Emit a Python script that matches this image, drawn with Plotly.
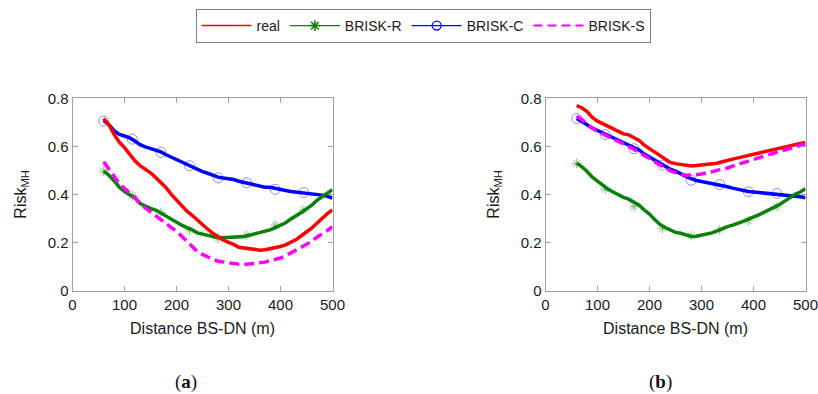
import plotly.graph_objects as go

# ---------------- data ----------------
distance = list(range(60, 501, 10))
marker_distance = [60, 115, 170, 225, 280, 335, 390, 445]

# panel (a)
a_real = [0.715, 0.690, 0.650, 0.617, 0.595, 0.567, 0.540, 0.520, 0.505, 0.490,
          0.470, 0.450, 0.428, 0.400, 0.375, 0.350, 0.330, 0.313, 0.292, 0.272,
          0.255, 0.238, 0.222, 0.210, 0.200, 0.192, 0.180, 0.177, 0.175, 0.170,
          0.168, 0.170, 0.174, 0.176, 0.183, 0.190, 0.200, 0.212, 0.228, 0.243,
          0.260, 0.280, 0.300, 0.320, 0.335]
a_r = [0.497, 0.480, 0.457, 0.430, 0.412, 0.398, 0.385, 0.362, 0.350, 0.342,
       0.335, 0.322, 0.310, 0.295, 0.283, 0.272, 0.262, 0.253, 0.240, 0.235,
       0.228, 0.224, 0.220, 0.220, 0.221, 0.222, 0.222, 0.225, 0.230, 0.236,
       0.240, 0.245, 0.252, 0.262, 0.272, 0.282, 0.298, 0.310, 0.325, 0.340,
       0.355, 0.375, 0.390, 0.405, 0.420]
a_c = [0.707, 0.690, 0.665, 0.650, 0.643, 0.635, 0.622, 0.607, 0.598, 0.592,
       0.585, 0.577, 0.565, 0.555, 0.543, 0.533, 0.522, 0.515, 0.503, 0.495,
       0.488, 0.478, 0.472, 0.468, 0.466, 0.462, 0.455, 0.450, 0.448, 0.443,
       0.436, 0.430, 0.430, 0.425, 0.418, 0.416, 0.412, 0.410, 0.406, 0.404,
       0.404, 0.400, 0.397, 0.392, 0.385]
a_s = [0.536, 0.505, 0.470, 0.445, 0.425, 0.405, 0.388, 0.360, 0.343, 0.328,
       0.312, 0.292, 0.276, 0.262, 0.247, 0.226, 0.205, 0.188, 0.162, 0.150,
       0.138, 0.130, 0.122, 0.118, 0.116, 0.112, 0.109, 0.108, 0.110, 0.111,
       0.113, 0.118, 0.124, 0.130, 0.135, 0.145, 0.155, 0.168, 0.180, 0.192,
       0.205, 0.222, 0.235, 0.250, 0.266]
a_r_markers = [0.497, 0.394, 0.325, 0.252, 0.217, 0.231, 0.272, 0.335]
a_c_markers = [0.705, 0.630, 0.575, 0.519, 0.469, 0.448, 0.421, 0.408]

# panel (b)
b_real = [0.770, 0.760, 0.745, 0.720, 0.705, 0.695, 0.685, 0.674, 0.663, 0.652,
          0.648, 0.638, 0.625, 0.605, 0.590, 0.575, 0.560, 0.547, 0.533, 0.528,
          0.524, 0.520, 0.518, 0.520, 0.522, 0.523, 0.526, 0.530, 0.536, 0.540,
          0.547, 0.552, 0.557, 0.563, 0.568, 0.574, 0.580, 0.585, 0.590, 0.595,
          0.600, 0.604, 0.608, 0.612, 0.616]
b_r = [0.530, 0.515, 0.495, 0.472, 0.455, 0.438, 0.422, 0.410, 0.398, 0.388,
       0.380, 0.368, 0.355, 0.335, 0.318, 0.295, 0.275, 0.262, 0.250, 0.242,
       0.238, 0.230, 0.225, 0.226, 0.230, 0.236, 0.240, 0.248, 0.258, 0.266,
       0.272, 0.279, 0.288, 0.297, 0.305, 0.315, 0.325, 0.335, 0.346, 0.358,
       0.372, 0.388, 0.400, 0.410, 0.423]
b_c = [0.716, 0.705, 0.690, 0.676, 0.666, 0.657, 0.648, 0.638, 0.628, 0.617,
       0.608, 0.596, 0.585, 0.568, 0.555, 0.540, 0.528, 0.517, 0.505, 0.497,
       0.485, 0.475, 0.466, 0.458, 0.454, 0.450, 0.446, 0.442, 0.438, 0.432,
       0.426, 0.421, 0.416, 0.412, 0.410, 0.408, 0.407, 0.405, 0.402, 0.400,
       0.398, 0.395, 0.393, 0.390, 0.386]
b_s = [0.725, 0.712, 0.690, 0.675, 0.662, 0.652, 0.642, 0.630, 0.620, 0.610,
       0.600, 0.588, 0.575, 0.558, 0.545, 0.532, 0.520, 0.510, 0.498, 0.490,
       0.484, 0.480, 0.480, 0.482, 0.485, 0.488, 0.494, 0.500, 0.504, 0.510,
       0.518, 0.525, 0.532, 0.540, 0.546, 0.553, 0.560, 0.566, 0.573, 0.579,
       0.585, 0.591, 0.597, 0.603, 0.610]
b_r_markers = [0.529, 0.422, 0.349, 0.259, 0.228, 0.252, 0.290, 0.348]
b_c_markers = [0.716, 0.649, 0.590, 0.522, 0.459, 0.441, 0.411, 0.404]

series_names = ["real", "BRISK-R", "BRISK-C", "BRISK-S"]
x_ticks = [0, 100, 200, 300, 400, 500]
y_ticks = [0, 0.2, 0.4, 0.6, 0.8]
y_tick_text = ["0", "0.2", "0.4", "0.6", "0.8"]

# ---------------- styles ----------------
RED, GREEN, BLUE, MAGENTA = "#ff0000", "#0a800a", "#0000ff", "#ff00ff"
PALE_GREEN, PALE_BLUE = "#7fbf7f", "#8c8cff"
FONT = "Arial, Liberation Sans, sans-serif"
AXC = "#a0a0a0"
TXT = "#1a1a1a"
LW = 3.5
DASH = "10px,5px"

fig = go.Figure()

panels = [
    ("x", "y", a_real, a_r, a_c, a_s, a_r_markers, a_c_markers),
    ("x2", "y2", b_real, b_r, b_c, b_s, b_r_markers, b_c_markers),
]
for xa, ya, real, r, c, s, rm, cm in panels:
    # markers (drawn below the thick lines)
    fig.add_trace(go.Scatter(x=marker_distance, y=rm, mode="markers", xaxis=xa, yaxis=ya,
                             marker=dict(symbol="asterisk-open", size=8, color=PALE_GREEN,
                                         line=dict(color=PALE_GREEN, width=1)),
                             showlegend=False, hoverinfo="skip"))
    fig.add_trace(go.Scatter(x=marker_distance, y=cm, mode="markers", xaxis=xa, yaxis=ya,
                             marker=dict(symbol="circle-open", size=10, color=PALE_BLUE,
                                         line=dict(color=PALE_BLUE, width=1)),
                             showlegend=False, hoverinfo="skip"))
    fig.add_trace(go.Scatter(x=distance, y=c, mode="lines", xaxis=xa, yaxis=ya,
                             line=dict(color=BLUE, width=LW), showlegend=False))
    fig.add_trace(go.Scatter(x=distance, y=r, mode="lines", xaxis=xa, yaxis=ya,
                             line=dict(color=GREEN, width=LW), showlegend=False))
    fig.add_trace(go.Scatter(x=distance, y=real, mode="lines", xaxis=xa, yaxis=ya,
                             line=dict(color=RED, width=LW), showlegend=False))
    fig.add_trace(go.Scatter(x=distance, y=s, mode="lines", xaxis=xa, yaxis=ya,
                             line=dict(color=MAGENTA, width=LW, dash=DASH), showlegend=False))

# legend entries (thin lines, as in the reference legend)
fig.add_trace(go.Scatter(x=[None], y=[None], mode="lines", name=series_names[0],
                         line=dict(color=RED, width=1.5)))
fig.add_trace(go.Scatter(x=[None], y=[None], mode="lines+markers", name=series_names[1],
                         line=dict(color=GREEN, width=1.3),
                         marker=dict(symbol="asterisk-open", size=9, color=GREEN,
                                     line=dict(color=GREEN, width=1.5))))
fig.add_trace(go.Scatter(x=[None], y=[None], mode="lines+markers", name=series_names[2],
                         line=dict(color=BLUE, width=1.3),
                         marker=dict(symbol="circle-open", size=9, color=BLUE,
                                     line=dict(color=BLUE, width=1.3))))
fig.add_trace(go.Scatter(x=[None], y=[None], mode="lines", name=series_names[3],
                         line=dict(color=MAGENTA, width=2, dash="9px,5px")))

W, H = 818, 394
def px_x(p):
    return p / W
def px_y(p):
    return 1 - p / H

common_x = dict(range=[0, 500], tickvals=x_ticks, ticks="inside", ticklen=5, tickcolor=AXC,
                showline=True, linecolor=AXC, linewidth=1, mirror="ticks", showgrid=False,
                zeroline=False, automargin=False, ticklabeloverflow="allow",
                tickfont=dict(size=15, color=TXT, family=FONT),
                title=dict(text="Distance BS-DN (m)", font=dict(size=16, color=TXT, family=FONT),
                           standoff=11))
common_y = dict(range=[0, 0.8], tickvals=y_ticks, ticktext=y_tick_text,
                ticks="inside", ticklen=5, tickcolor=AXC,
                showline=True, linecolor=AXC, linewidth=1, mirror="ticks", showgrid=False,
                zeroline=False, automargin=False, ticklabeloverflow="allow",
                tickfont=dict(size=15, color=TXT, family=FONT),
                title=dict(text="Risk<sub>MH</sub>", font=dict(size=16, color=TXT, family=FONT),
                           standoff=17))

ydom = [px_y(290.5), px_y(98.3)]
fig.update_layout(
    template="none",
    width=W, height=H,
    margin=dict(l=0, r=0, t=0, b=0, pad=0),
    paper_bgcolor="white", plot_bgcolor="white",
    font=dict(family=FONT, color=TXT),
    xaxis=dict(domain=[px_x(72.5), px_x(332.5)], anchor="y", **common_x),
    yaxis=dict(domain=ydom, anchor="x", **common_y),
    xaxis2=dict(domain=[px_x(545.5), px_x(805.5)], anchor="y2", **common_x),
    yaxis2=dict(domain=ydom, anchor="x2", **common_y),
    legend=dict(orientation="h", xref="paper", yref="paper",
                x=px_x(423), xanchor="center", y=px_y(9), yanchor="top",
                bordercolor="#808080", borderwidth=1, bgcolor="white",
                font=dict(size=14, family=FONT, color=TXT), itemwidth=50,
                tracegroupgap=0),
    showlegend=True,
    annotations=[
        dict(text="(<b>a</b>)", x=px_x(186), y=px_y(382), xref="paper", yref="paper",
             xanchor="center", yanchor="middle", showarrow=False,
             font=dict(size=19, family="Liberation Serif, serif", color="#111")),
        dict(text="(<b>b</b>)", x=px_x(660), y=px_y(382), xref="paper", yref="paper",
             xanchor="center", yanchor="middle", showarrow=False,
             font=dict(size=19, family="Liberation Serif, serif", color="#111")),
    ],
)

fig.write_html("out.html")
